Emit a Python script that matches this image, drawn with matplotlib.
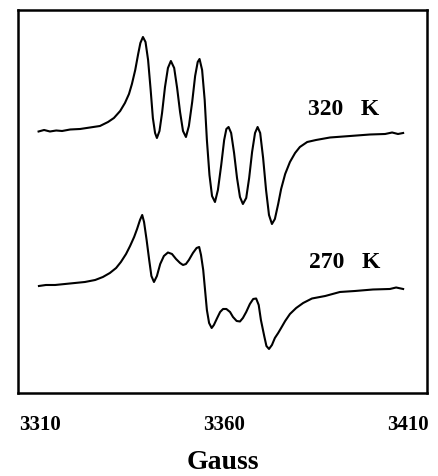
import matplotlib
matplotlib.use("Agg")
import matplotlib.pyplot as plt

# 320 K spectrum (field in Gauss, signal in arbitrary units)
field_320 = [3309.6, 3311.1, 3312.7, 3314.4, 3316.0, 3318.2, 3320.9, 3323.6, 3326.3, 3328.5,
             3330.1, 3331.8, 3333.1, 3334.2, 3335.0, 3335.9, 3336.7, 3337.3, 3338.0, 3338.7,
             3339.4, 3340.1, 3340.7, 3341.3, 3341.8, 3342.5, 3343.2, 3344.0, 3344.8, 3345.6,
             3346.5, 3347.3, 3348.1, 3348.9, 3349.7, 3350.5, 3351.4, 3352.2, 3352.9, 3353.4,
             3354.1, 3354.8, 3355.4, 3356.1, 3356.8, 3357.6, 3358.4, 3359.3, 3360.1, 3360.7,
             3361.3, 3362.0, 3362.8, 3363.6, 3364.4, 3365.2, 3366.1, 3366.9, 3367.7, 3368.5,
             3369.2, 3369.9, 3370.7, 3371.5, 3372.3, 3373.1, 3373.9, 3374.8, 3375.6, 3376.7,
             3378.0, 3379.4, 3380.7, 3382.7, 3385.1, 3388.9, 3394.4, 3399.8, 3403.9, 3405.8,
             3407.4, 3408.8]
signal_320 = [261.5, 263, 261.5, 262.5, 262, 263.5, 264, 265.5, 267, 271,
              275, 282, 290, 299, 309, 323, 339, 350, 356, 351,
              333, 303, 275, 260, 255, 262, 280, 306, 325, 332,
              325, 305, 281, 262, 256, 267, 291, 317, 331, 334,
              323, 293, 253, 218, 197, 191, 203, 228, 253, 264,
              266, 260, 240, 215, 196, 189, 195, 215, 241, 260,
              266, 260, 235, 203, 178, 169, 174, 189, 204, 219,
              231, 240, 246, 251, 253, 255.5, 257, 258.5, 259, 260.5,
              259, 260]

# 270 K spectrum
field_270 = [3309.7, 3311.6, 3314.1, 3316.8, 3319.5, 3322.2, 3325.0, 3327.1, 3329.0, 3330.7,
             3332.0, 3333.4, 3334.5, 3335.6, 3336.4, 3337.2, 3337.8, 3338.3, 3339.0, 3339.7,
             3340.3, 3341.0, 3341.8, 3342.7, 3343.7, 3344.8, 3345.9, 3347.0, 3348.1, 3348.9,
             3349.7, 3350.5, 3351.6, 3352.6, 3353.3, 3353.8, 3354.4, 3354.9, 3355.4, 3356.0,
             3356.7, 3357.3, 3358.2, 3359.0, 3359.8, 3360.7, 3361.7, 3362.5, 3363.5, 3364.4,
             3365.2, 3366.1, 3367.1, 3368.0, 3368.8, 3369.5, 3370.1, 3371.0, 3371.6, 3372.3,
             3373.1, 3373.9, 3374.8, 3375.6, 3376.7, 3378.0, 3379.7, 3381.6, 3384.0, 3387.6,
             3391.6, 3395.7, 3400.6, 3405.2, 3406.9, 3408.8]
signal_270 = [107, 108, 108, 109, 110, 111, 113, 116, 120, 125,
              131, 139, 147, 156, 164, 173, 178, 171, 153, 133,
              117, 111, 117, 129, 137, 140.5, 139, 134, 130, 128,
              129, 133, 140, 145, 146, 138, 123, 103, 83, 70,
              65, 68, 75, 81, 84, 84, 81, 76, 72, 71.5,
              75, 81, 89, 94, 94.5, 88, 73, 57, 47, 44,
              48, 55, 60, 65, 72, 79, 85, 90, 94.5, 97,
              101, 102, 103.5, 104, 105.5, 104]

tick_values = [3310, 3360, 3410]
tick_labels = ["3310", "3360", "3410"]

serif = ["Liberation Serif", "DejaVu Serif"]

fig = plt.figure(figsize=(4.39, 4.76), dpi=100)
ax = fig.add_axes([0.041, 0.1744, 0.9317, 0.8046])

ax.plot(field_320, signal_320, color="black", linewidth=1.5)
ax.plot(field_270, signal_270, color="black", linewidth=1.5)

ax.text(3392.5, 283, "320   K", family=serif, fontweight="bold", fontsize=17,
        ha="center", va="center")
ax.text(3393.0, 130, "270   K", family=serif, fontweight="bold", fontsize=17,
        ha="center", va="center")

ax.set_xlim(3304.0, 3415.3)
ax.set_ylim(0, 383)
ax.set_yticks([])
ax.set_xticks(tick_values)
ax.set_xticklabels(tick_labels, family=serif, fontweight="bold", fontsize=15)
ax.tick_params(axis="x", length=0, pad=16)
ax.set_xlabel("Gauss", family=serif, fontweight="bold", fontsize=20, labelpad=11)

for s in ax.spines.values():
    s.set_linewidth(1.8)

fig.savefig("out.png", dpi=100)
